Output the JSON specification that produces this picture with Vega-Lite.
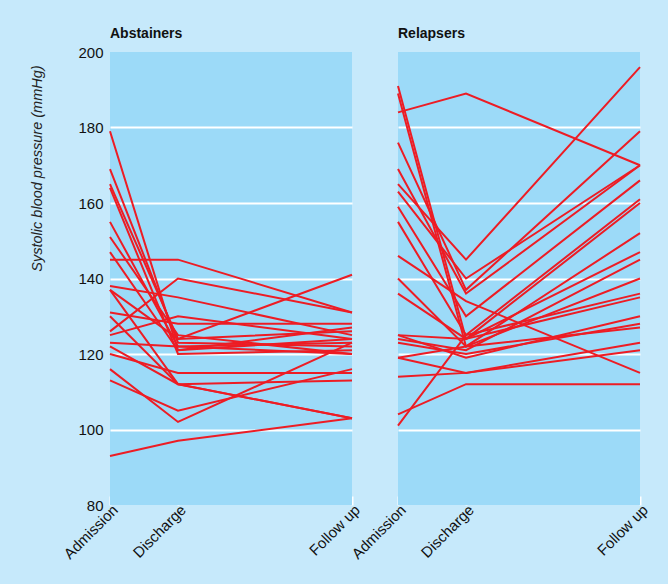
{
  "$schema": "https://vega.github.io/schema/vega-lite/v6.json",
  "background": "#c6e9fb",
  "padding": {"left": 29, "top": 27, "right": 17, "bottom": 22},
  "data": {"values": [
    {"g":"Abstainers","id":"a1","t":0,"v":179},{"g":"Abstainers","id":"a1","t":0.281,"v":121},{"g":"Abstainers","id":"a1","t":1,"v":124},
    {"g":"Abstainers","id":"a2","t":0,"v":169},{"g":"Abstainers","id":"a2","t":0.281,"v":123},{"g":"Abstainers","id":"a2","t":1,"v":122},
    {"g":"Abstainers","id":"a3","t":0,"v":165},{"g":"Abstainers","id":"a3","t":0.281,"v":124},{"g":"Abstainers","id":"a3","t":1,"v":126},
    {"g":"Abstainers","id":"a4","t":0,"v":164},{"g":"Abstainers","id":"a4","t":0.281,"v":120},{"g":"Abstainers","id":"a4","t":1,"v":121},
    {"g":"Abstainers","id":"a5","t":0,"v":155},{"g":"Abstainers","id":"a5","t":0.281,"v":122},{"g":"Abstainers","id":"a5","t":1,"v":123},
    {"g":"Abstainers","id":"a6","t":0,"v":151},{"g":"Abstainers","id":"a6","t":0.281,"v":125},{"g":"Abstainers","id":"a6","t":1,"v":120},
    {"g":"Abstainers","id":"a7","t":0,"v":147},{"g":"Abstainers","id":"a7","t":0.281,"v":121},{"g":"Abstainers","id":"a7","t":1,"v":127},
    {"g":"Abstainers","id":"a8","t":0,"v":145},{"g":"Abstainers","id":"a8","t":0.281,"v":145},{"g":"Abstainers","id":"a8","t":1,"v":131},
    {"g":"Abstainers","id":"a9","t":0,"v":138},{"g":"Abstainers","id":"a9","t":0.281,"v":135},{"g":"Abstainers","id":"a9","t":1,"v":125},
    {"g":"Abstainers","id":"a10","t":0,"v":137},{"g":"Abstainers","id":"a10","t":0.281,"v":112},{"g":"Abstainers","id":"a10","t":1,"v":103},
    {"g":"Abstainers","id":"a11","t":0,"v":137},{"g":"Abstainers","id":"a11","t":0.281,"v":124},{"g":"Abstainers","id":"a11","t":1,"v":141},
    {"g":"Abstainers","id":"a12","t":0,"v":131},{"g":"Abstainers","id":"a12","t":0.281,"v":128},{"g":"Abstainers","id":"a12","t":1,"v":128},
    {"g":"Abstainers","id":"a13","t":0,"v":130},{"g":"Abstainers","id":"a13","t":0.281,"v":112},{"g":"Abstainers","id":"a13","t":1,"v":113},
    {"g":"Abstainers","id":"a14","t":0,"v":126},{"g":"Abstainers","id":"a14","t":0.281,"v":140},{"g":"Abstainers","id":"a14","t":1,"v":131},
    {"g":"Abstainers","id":"a15","t":0,"v":125},{"g":"Abstainers","id":"a15","t":0.281,"v":130},{"g":"Abstainers","id":"a15","t":1,"v":124},
    {"g":"Abstainers","id":"a16","t":0,"v":123},{"g":"Abstainers","id":"a16","t":0.281,"v":122},{"g":"Abstainers","id":"a16","t":1,"v":120},
    {"g":"Abstainers","id":"a17","t":0,"v":122},{"g":"Abstainers","id":"a17","t":0.281,"v":112},{"g":"Abstainers","id":"a17","t":1,"v":103},
    {"g":"Abstainers","id":"a18","t":0,"v":120},{"g":"Abstainers","id":"a18","t":0.281,"v":115},{"g":"Abstainers","id":"a18","t":1,"v":115},
    {"g":"Abstainers","id":"a19","t":0,"v":116},{"g":"Abstainers","id":"a19","t":0.281,"v":102},{"g":"Abstainers","id":"a19","t":1,"v":123},
    {"g":"Abstainers","id":"a20","t":0,"v":113},{"g":"Abstainers","id":"a20","t":0.281,"v":105},{"g":"Abstainers","id":"a20","t":1,"v":116},
    {"g":"Abstainers","id":"a21","t":0,"v":93},{"g":"Abstainers","id":"a21","t":0.281,"v":97},{"g":"Abstainers","id":"a21","t":1,"v":103},
    {"g":"Relapsers","id":"r1","t":0,"v":184},{"g":"Relapsers","id":"r1","t":0.281,"v":189},{"g":"Relapsers","id":"r1","t":1,"v":170},
    {"g":"Relapsers","id":"r2","t":0,"v":165},{"g":"Relapsers","id":"r2","t":0.281,"v":145},{"g":"Relapsers","id":"r2","t":1,"v":196},
    {"g":"Relapsers","id":"r3","t":0,"v":191},{"g":"Relapsers","id":"r3","t":0.281,"v":124},{"g":"Relapsers","id":"r3","t":1,"v":135},
    {"g":"Relapsers","id":"r4","t":0,"v":189},{"g":"Relapsers","id":"r4","t":0.281,"v":122},{"g":"Relapsers","id":"r4","t":1,"v":140},
    {"g":"Relapsers","id":"r5","t":0,"v":176},{"g":"Relapsers","id":"r5","t":0.281,"v":137},{"g":"Relapsers","id":"r5","t":1,"v":179},
    {"g":"Relapsers","id":"r6","t":0,"v":169},{"g":"Relapsers","id":"r6","t":0.281,"v":136},{"g":"Relapsers","id":"r6","t":1,"v":170},
    {"g":"Relapsers","id":"r7","t":0,"v":163},{"g":"Relapsers","id":"r7","t":0.281,"v":140},{"g":"Relapsers","id":"r7","t":1,"v":170},
    {"g":"Relapsers","id":"r8","t":0,"v":159},{"g":"Relapsers","id":"r8","t":0.281,"v":130},{"g":"Relapsers","id":"r8","t":1,"v":166},
    {"g":"Relapsers","id":"r9","t":0,"v":155},{"g":"Relapsers","id":"r9","t":0.281,"v":125},{"g":"Relapsers","id":"r9","t":1,"v":161},
    {"g":"Relapsers","id":"r10","t":0,"v":146},{"g":"Relapsers","id":"r10","t":0.281,"v":134},{"g":"Relapsers","id":"r10","t":1,"v":115},
    {"g":"Relapsers","id":"r11","t":0,"v":140},{"g":"Relapsers","id":"r11","t":0.281,"v":122},{"g":"Relapsers","id":"r11","t":1,"v":152},
    {"g":"Relapsers","id":"r12","t":0,"v":136},{"g":"Relapsers","id":"r12","t":0.281,"v":124},{"g":"Relapsers","id":"r12","t":1,"v":160},
    {"g":"Relapsers","id":"r13","t":0,"v":125},{"g":"Relapsers","id":"r13","t":0.281,"v":124},{"g":"Relapsers","id":"r13","t":1,"v":147},
    {"g":"Relapsers","id":"r14","t":0,"v":124},{"g":"Relapsers","id":"r14","t":0.281,"v":121},{"g":"Relapsers","id":"r14","t":1,"v":145},
    {"g":"Relapsers","id":"r15","t":0,"v":123},{"g":"Relapsers","id":"r15","t":0.281,"v":120},{"g":"Relapsers","id":"r15","t":1,"v":128},
    {"g":"Relapsers","id":"r16","t":0,"v":119},{"g":"Relapsers","id":"r16","t":0.281,"v":122},{"g":"Relapsers","id":"r16","t":1,"v":127},
    {"g":"Relapsers","id":"r17","t":0,"v":114},{"g":"Relapsers","id":"r17","t":0.281,"v":115},{"g":"Relapsers","id":"r17","t":1,"v":121},
    {"g":"Relapsers","id":"r18","t":0,"v":104},{"g":"Relapsers","id":"r18","t":0.281,"v":112},{"g":"Relapsers","id":"r18","t":1,"v":112},
    {"g":"Relapsers","id":"r19","t":0,"v":101},{"g":"Relapsers","id":"r19","t":0.281,"v":125},{"g":"Relapsers","id":"r19","t":1,"v":136},
    {"g":"Relapsers","id":"r20","t":0,"v":125},{"g":"Relapsers","id":"r20","t":0.281,"v":119},{"g":"Relapsers","id":"r20","t":1,"v":130},
    {"g":"Relapsers","id":"r21","t":0,"v":119},{"g":"Relapsers","id":"r21","t":0.281,"v":115},{"g":"Relapsers","id":"r21","t":1,"v":123}
  ]},
  "facet": {"column": {"field": "g", "type": "nominal", "title": null,
    "header": {"labelAnchor": "start", "labelAlign": "left", "labelFont": "Liberation Sans", "labelFontSize": 14, "labelFontWeight": "bold", "labelColor": "#111", "labelPadding": 11}}},
  "spacing": 46,
  "bounds": "flush",
  "spec": {
    "width": 242,
    "height": 453,
    "mark": {"type": "line", "color": "#ed1c24", "strokeWidth": 2},
    "encoding": {
      "detail": {"field": "id", "type": "nominal"},
      "x": {"field": "t", "type": "quantitative",
        "scale": {"domain": [0, 1], "nice": false, "zero": false},
        "axis": {"title": null, "values": [0, 0.281, 1], "grid": false, "domain": false,
          "labelExpr": "datum.value == 0 ? 'Admission' : (datum.value == 1 ? 'Follow up' : 'Discharge')",
          "labelAngle": -45, "labelFont": "Liberation Sans", "labelFontSize": 15, "labelColor": "#111",
          "ticks": true, "tickColor": "white", "tickWidth": 2, "tickSize": -9, "labelPadding": 6}},
      "y": {"field": "v", "type": "quantitative",
        "scale": {"domain": [80, 200], "nice": false, "zero": false},
        "axis": {"title": "Systolic blood pressure (mmHg)", "values": [80, 100, 120, 140, 160, 180, 200],
          "grid": true, "gridColor": "white", "gridWidth": 2,
          "gridOpacity": {"condition": {"test": "datum.value == 80 || datum.value == 200", "value": 0}, "value": 1},
          "domain": false, "ticks": false, "labelPadding": 7,
          "labelFont": "Liberation Sans", "labelFontSize": 15, "labelColor": "#111",
          "titleFont": "Liberation Sans", "titleFontSize": 14.5, "titleFontStyle": "italic", "titleFontWeight": "normal",
          "titleColor": "#222", "titlePadding": 33, "titleY": 116}}
    }
  },
  "config": {"view": {"fill": "#9cdaf8", "stroke": null}}
}
